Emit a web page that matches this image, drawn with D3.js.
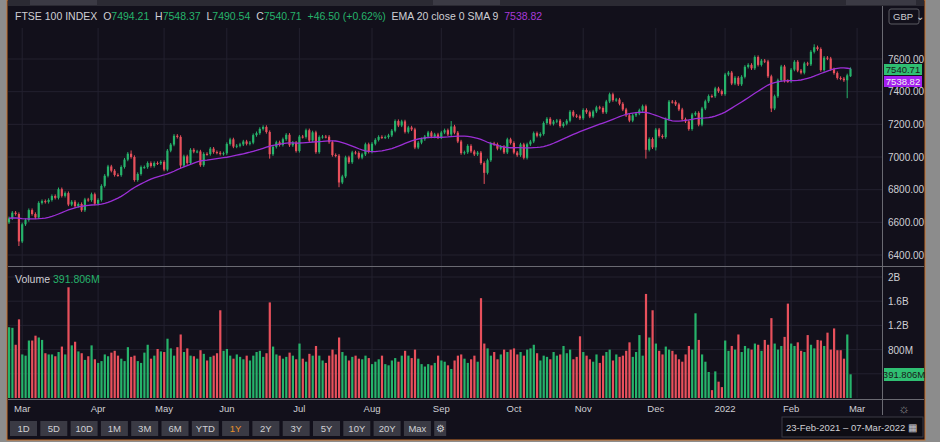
<!DOCTYPE html>
<html><head><meta charset="utf-8">
<script src="https://cdn.jsdelivr.net/npm/d3@7"></script>
<style>
body{margin:0;background:#8c8c8c;}
svg{display:block;font-family:"Liberation Sans",Arial,sans-serif;}
</style></head>
<body><svg id="chart" width="940" height="442"></svg>
<script>
// daily closes, one array per month
const feb21 = [6625, 6659, 6651, 6483];
const mar21 = [6588,6614,6675,6651,6630,6719,6730,6725,6737,6761,6750,6803,6762,6779,6709,6726,6699,6712,6674,6740,6736,6772,6714];
const apr21 = [6737,6823,6885,6942,6916,6890,6889,6939,6984,7020,7000,6859,6896,6938,6938,6963,6945,6963,6961,6970];
const may21 = [6923,7039,7076,7130,7123,6948,7004,6963,7044,7033,7034,6950,7019,7018,7051,7030,7026,7019,7023];
const jun21 = [7080,7108,7064,7069,7077,7095,7081,7088,7134,7146,7172,7184,7153,7017,7062,7090,7074,7109,7136,7072,7088,7037];
const jul21 = [7125,7123,7164,7101,7151,7030,7122,7125,7124,7091,7012,7008,6844,6881,6998,6968,7028,7025,6996,7016,7078,7032];
const aug21 = [7081,7105,7123,7120,7122,7132,7161,7220,7193,7218,7154,7181,7169,7058,7088,7109,7125,7150,7125,7138,7120];
const sep21 = [7150,7164,7138,7187,7149,7095,7024,7029,7068,7034,7016,7027,6963,6903,6980,7083,7078,7051,7063,7028,7108,7086];
const oct21 = [7027,7011,7077,6995,7078,7095,7146,7130,7141,7208,7234,7203,7217,7223,7190,7204,7222,7277,7253,7249,7237];
const nov21 = [7288,7274,7248,7279,7304,7300,7274,7340,7384,7348,7352,7326,7291,7255,7223,7255,7266,7286,7311,7044,7110,7059];
const dec21 = [7168,7129,7122,7232,7339,7337,7322,7291,7231,7218,7171,7260,7270,7198,7297,7341,7373,7372,7420,7403,7385];
const jan22 = [7505,7517,7450,7485,7445,7491,7552,7564,7543,7612,7564,7590,7585,7494,7297,7372,7470,7554,7466,7464];
const feb22 = [7535,7583,7529,7516,7573,7567,7644,7672,7661,7532,7608,7603,7537,7514,7484,7480,7470,7500,7540.71];

// volumes in millions
const volFeb21 = [1170,1160,880,1300];
const volMar21 = [720,700,950,950,1030,1000,960,740,720,720,690,760,850,720,1830,870,930,770,740,630,690,870,640];
const volApr21 = [580,610,720,690,750,780,700,650,610,840,680,700,610,580,750,880,650,700,810,770];
const volMay21 = [760,980,820,700,840,1050,760,820,700,690,650,790,730,620,680,700,740,1450,780];
const volJun21 = [810,700,650,720,680,640,700,620,700,760,780,680,740,1580,850,720,700,650,680,750,700,640];
const volJul21 = [900,650,600,730,700,860,700,620,580,700,800,720,1000,760,700,620,680,700,650,640,700,660];
const volAug21 = [560,600,640,700,560,540,620,660,600,700,780,700,660,800,650,560,520,560,540,580,700];
const volSep21 = [620,600,540,480,620,700,720,650,580,640,700,600,1650,900,820,700,760,640,720,800,760,800];
const volOct21 = [820,720,760,700,800,820,880,740,620,700,680,640,760,700,720,860,740,800,640,680,1020];
const volNov21 = [760,700,640,600,720,580,700,760,800,620,720,680,700,780,920,680,760,1040,700,1720,1000,1450];
const volDec21 = [900,780,720,850,800,780,720,640,600,720,860,800,1400,960,720,600,430,130,440,270,180];
const volJan22 = [950,780,860,800,1050,760,860,820,800,900,880,780,960,880,1320,900,800,860,1010,1560];
const volFeb22 = [900,860,920,780,760,1040,880,820,960,950,860,1080,800,1150,790,790,650,1050,391.806];

// long wicks visible on the chart
const wickLows = {"2021-02-26":6455,"2021-05-11":6930,"2021-06-18":6990,"2021-07-19":6815,"2021-09-20":6835,
  "2021-11-26":6990,"2021-12-01":7040,"2022-01-24":7275,"2022-02-24":7360};
const wickHighs = {"2021-04-19":7040,"2021-09-06":7220,"2022-02-10":7690};
const lastBar = {open:7494.21, high:7548.37, low:7490.54};
const holidays = ["2021-04-02","2021-04-05","2021-05-03","2021-05-31","2021-08-30","2021-12-27","2021-12-28","2022-01-03"];
const monthNames = ["Jan","Feb","Mar","Apr","May","Jun","Jul","Aug","Sep","Oct","Nov","Dec"];
const priceTicks = [6400,6600,6800,7000,7200,7400,7600];
const volTicks = [800,1200,1600,2000];
const ranges = ["1D","5D","10D","1M","3M","6M","YTD","1Y","2Y","3Y","5Y","10Y","20Y","Max","⚙"];

const closes = [].concat(feb21,mar21,apr21,may21,jun21,jul21,aug21,sep21,oct21,nov21,dec21,jan22,feb22);
const volumes = [].concat(volFeb21,volMar21,volApr21,volMay21,volJun21,volJul21,volAug21,volSep21,volOct21,volNov21,volDec21,volJan22,volFeb22);

// trading days
const fmt = d3.utcFormat("%Y-%m-%d");
const days = d3.utcDay.range(new Date(Date.UTC(2021,1,23)), new Date(Date.UTC(2022,2,8)))
  .filter(d => d.getUTCDay() > 0 && d.getUTCDay() < 6 && !holidays.includes(fmt(d)));

const bars = closes.map((c, i) => {
  const key = fmt(days[i]);
  const o = i === 0 ? 6600 : closes[i-1];
  let b = {date: days[i], open: o, close: c, vol: volumes[i]};
  b.high = wickHighs[key] || Math.max(o, c) + 10;
  b.low = wickLows[key] || Math.min(o, c) - 10;
  if (i === closes.length - 1) Object.assign(b, lastBar);
  return b;
});

// EMA 20 smoothed by SMA 9
let ema = [], k = 2 / 21;
closes.forEach((c, i) => ema.push(i === 0 ? c : c * k + ema[i-1] * (1 - k)));
const ma = ema.map((e, i) => d3.mean(ema.slice(Math.max(0, i - 8), i + 1)));

const W = 940, H = 442, plotR = 882;
const svg = d3.select("#chart");
const up = "#26b36b", down = "#e8505c", bg = "#12101b", grid = "#23212f", txt = "#cfcfd4";

svg.append("rect").attr("x", 0).attr("y", 0).attr("width", W).attr("height", H).attr("fill", "#8c8c8c");
svg.append("rect").attr("x", 7).attr("y", 0).attr("width", 918).attr("height", 440).attr("fill", bg)
  .attr("stroke", "#c8702a").attr("stroke-width", 1);
svg.append("rect").attr("x", 8).attr("y", 0).attr("width", 916).attr("height", 6).attr("fill", "#2b2a33");
svg.append("rect").attr("x", 30).attr("y", 0).attr("width", 67).attr("height", 5).attr("fill", "#3b3a44");
svg.append("rect").attr("x", 433).attr("y", 0).attr("width", 67).attr("height", 5).attr("fill", "#3b3a44");
svg.append("rect").attr("x", 846).attr("y", 0).attr("width", 70).attr("height", 5).attr("fill", "#3b3a44");

const x = d3.scaleLinear().domain([0, 1]).range([9, 12.3]);
const y = d3.scaleLinear().domain([6400, 7600]).range([255, 59]);
const yv = d3.scaleLinear().domain([0, 2000]).range([398, 277]);

// grid
const monthStarts = days.map((d, i) => ({d, i})).filter((o, j, a) => j === 0 ? false : o.d.getUTCMonth() !== a[j-1].d.getUTCMonth());
const gx = svg.append("g");
monthStarts.forEach(m => {
  gx.append("line").attr("x1", x(m.i)).attr("x2", x(m.i)).attr("y1", 28).attr("y2", 398).attr("stroke", grid);
});
priceTicks.forEach(t => gx.append("line").attr("x1", 8).attr("x2", plotR).attr("y1", y(t)).attr("y2", y(t)).attr("stroke", grid));
volTicks.concat([400]).forEach(t => gx.append("line").attr("x1", 8).attr("x2", plotR).attr("y1", yv(t)).attr("y2", yv(t)).attr("stroke", grid));

// separators
svg.append("line").attr("x1", 8).attr("x2", 924).attr("y1", 266.5).attr("y2", 266.5).attr("stroke", "#6a6a72");
svg.append("line").attr("x1", 8).attr("x2", 924).attr("y1", 399.5).attr("y2", 399.5).attr("stroke", "#6a6a72");
svg.append("line").attr("x1", plotR + 0.5).attr("x2", plotR + 0.5).attr("y1", 6).attr("y2", 415).attr("stroke", "#6a6a72");

// volume
svg.append("g").selectAll("rect").data(bars).join("rect")
  .attr("x", (d, i) => x(i) - 1).attr("width", 2.2)
  .attr("y", d => yv(d.vol)).attr("height", d => yv(0) - yv(d.vol))
  .attr("fill", d => d.close >= d.open ? up : down);

// candles
const cg = svg.append("g");
cg.selectAll("line").data(bars).join("line")
  .attr("x1", (d, i) => x(i)).attr("x2", (d, i) => x(i))
  .attr("y1", d => y(d.high)).attr("y2", d => y(d.low))
  .attr("stroke", d => d.close >= d.open ? up : down).attr("stroke-width", 1);
cg.selectAll("rect").data(bars).join("rect")
  .attr("x", (d, i) => x(i) - 1.1).attr("width", 2.2)
  .attr("y", d => y(Math.max(d.open, d.close)))
  .attr("height", d => Math.max(1, Math.abs(y(d.open) - y(d.close))))
  .attr("fill", d => d.close >= d.open ? up : down);

svg.append("path").datum(ma)
  .attr("d", d3.line().x((d, i) => x(i)).y(d => y(d)))
  .attr("fill", "none").attr("stroke", "#9c2fd6").attr("stroke-width", 1.3);

// price axis
const ax = svg.append("g").attr("font-size", 10).attr("fill", txt);
priceTicks.forEach(t => ax.append("text").attr("x", 888).attr("y", y(t) + 3.5).text(t.toFixed(2)));
const vLabel = v => v >= 1000 ? (v / 1000) + "B" : v + "M";
volTicks.forEach(t => ax.append("text").attr("x", 888).attr("y", yv(t) + 4).text(vLabel(t)));

svg.append("rect").attr("x", 884).attr("y", 64).attr("width", 38).attr("height", 11).attr("fill", "#2fbf72");
svg.append("text").attr("x", 903).attr("y", 73).attr("text-anchor", "middle").attr("font-size", 9.5).attr("fill", "#1a1a1a").text("7540.71");
svg.append("rect").attr("x", 884).attr("y", 76).attr("width", 38).attr("height", 11).attr("fill", "#a41ff0");
svg.append("text").attr("x", 903).attr("y", 85).attr("text-anchor", "middle").attr("font-size", 9.5).attr("fill", "#f0f0f0").text("7538.82");
svg.append("rect").attr("x", 884).attr("y", 368).attr("width", 40).attr("height", 13).attr("fill", "#2fbf72");
svg.append("text").attr("x", 904).attr("y", 378).attr("text-anchor", "middle").attr("font-size", 9.5).attr("fill", "#1a1a1a").text("391.806M");
svg.append("rect").attr("x", 889).attr("y", 9).attr("width", 30).attr("height", 15).attr("fill", "none").attr("stroke", "#5a5a62").attr("rx", 2);
svg.append("text").attr("x", 893).attr("y", 20).attr("font-size", 9.5).attr("fill", txt).text("GBP ⌄");

// header
const hd = svg.append("text").attr("x", 15).attr("y", 20).attr("font-size", 10.5);
[["FTSE 100 INDEX  ", txt], ["O", txt], ["7494.21  ", up], ["H", txt], ["7548.37  ", up], ["L", txt], ["7490.54  ", up],
 ["C", txt], ["7540.71  ", up], ["+46.50 (+0.62%)  ", up], ["EMA 20 close 0 SMA 9  ", txt], ["7538.82", "#a83ad8"]]
  .forEach(p => hd.append("tspan").attr("fill", p[1]).attr("xml:space", "preserve").text(p[0]));
const vh = svg.append("text").attr("x", 15).attr("y", 283).attr("font-size", 10.5);
vh.append("tspan").attr("fill", txt).text("Volume ");
vh.append("tspan").attr("fill", up).text(" 391.806M");

// month labels
monthStarts.forEach(m => {
  const mo = m.d.getUTCMonth();
  svg.append("text").attr("x", x(m.i)).attr("y", 412).attr("text-anchor", "middle").attr("font-size", 9.5)
    .attr("fill", txt).text(mo === 0 ? m.d.getUTCFullYear() : monthNames[mo]);
});
svg.append("text").attr("x", 904).attr("y", 413).attr("text-anchor", "middle").attr("font-size", 13).attr("fill", "#888").text("☼");

// range buttons
ranges.forEach((r, i) => {
  const bx = 10 + i * 30.3, bw = r === "⚙" ? 12 : 27;
  svg.append("rect").attr("x", bx).attr("y", 421).attr("width", bw).attr("height", 15).attr("fill", "#3a3a44");
  svg.append("text").attr("x", bx + bw / 2).attr("y", 432).attr("text-anchor", "middle").attr("font-size", 9.5)
    .attr("fill", r === "1Y" ? "#e8902a" : "#d0d0d4").text(r);
});
svg.append("rect").attr("x", 782).attr("y", 417).attr("width", 141).attr("height", 20).attr("fill", "#0e0d14").attr("stroke", "#3a3a44");
svg.append("text").attr("x", 786).attr("y", 431).attr("font-size", 9.5).attr("fill", "#d0d0d4").text("23-Feb-2021  –  07-Mar-2022 ▦");
</script></body></html>
